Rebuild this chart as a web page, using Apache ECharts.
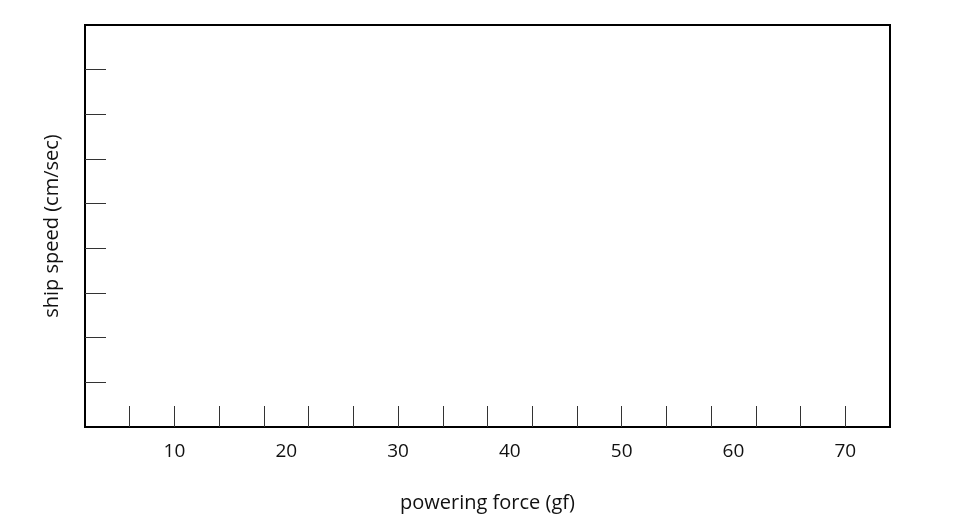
<!DOCTYPE html>
<html>
<head>
<meta charset="utf-8">
<script src="https://cdn.jsdelivr.net/npm/echarts@6/dist/echarts.min.js"></script>
<style>html,body{margin:0;padding:0;background:#fff}#c{width:954px;height:520px}</style>
</head>
<body>
<div id="c"></div>
<script>
var xTitle = "powering force (gf)";
var yTitle = "ship speed (cm/sec)";
var xMin = 2, xMax = 74;
var xTickValues = [6, 10, 14, 18, 22, 26, 30, 34, 38, 42, 46, 50, 54, 58, 62, 66, 70];
var xLabelValues = [10, 20, 30, 40, 50, 60, 70];
var yMin = 0, yMax = 9;
var yTickValues = [1, 2, 3, 4, 5, 6, 7, 8];

var chart = echarts.init(document.getElementById('c'), null, {renderer: 'canvas'});
var font = '"Open Sans", "Noto Sans", sans-serif';
chart.setOption({
  animation: false,
  backgroundColor: '#fff',
  grid: {left: 85, right: 64, top: 25, bottom: 93, show: true, borderColor: '#000', borderWidth: 2, backgroundColor: 'transparent'},
  xAxis: {
    type: 'value', min: xMin, max: xMax,
    name: xTitle, nameLocation: 'middle', nameGap: 66,
    nameTextStyle: {fontFamily: font, fontSize: 20, color: '#111'},
    axisLine: {show: true, lineStyle: {color: '#000', width: 2}},
    axisTick: {show: true, inside: true, length: 21, customValues: xTickValues, lineStyle: {color: '#333', width: 1}},
    axisLabel: {show: true, customValues: xLabelValues, margin: 15, fontFamily: font, fontSize: 19, color: '#111'},
    splitLine: {show: false}
  },
  yAxis: {
    type: 'value', min: yMin, max: yMax,
    name: yTitle, nameLocation: 'middle', nameGap: 23, nameRotate: 90,
    nameTextStyle: {fontFamily: font, fontSize: 20, color: '#111'},
    axisLine: {show: true, lineStyle: {color: '#000', width: 2}},
    axisTick: {show: true, inside: true, length: 21, customValues: yTickValues, lineStyle: {color: '#333', width: 1}},
    axisLabel: {show: false},
    splitLine: {show: false}
  },
  series: []
});
</script>
</body>
</html>
